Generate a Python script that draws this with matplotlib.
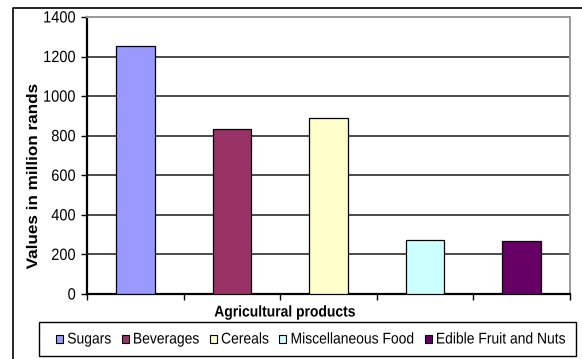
import matplotlib
matplotlib.use("Agg")
import matplotlib.pyplot as plt
from matplotlib.lines import Line2D
from matplotlib.patches import Patch, Rectangle
from matplotlib.patheffects import AbstractPathEffect
from matplotlib.transforms import Affine2D

plt.rcParams['font.family'] = ['Liberation Sans', 'DejaVu Sans']

categories = ["Sugars", "Beverages", "Cereals", "Miscellaneous Food", "Edible Fruit and Nuts"]
values = [1255, 832, 888, 273, 266]
colors = ["#9999FF", "#993366", "#FFFFCC", "#CCFFFF", "#660066"]
y_ticks = [0, 200, 400, 600, 800, 1000, 1200, 1400]


class Stretch(AbstractPathEffect):
    """Scale glyph outlines in the text's own frame (taller, narrow-looking type)."""

    def __init__(self, sx=1.0, sy=1.0):
        super().__init__()
        self.sx, self.sy = sx, sy

    def draw_path(self, renderer, gc, tpath, affine, rgbFace=None):
        renderer.draw_path(gc, tpath, Affine2D().scale(self.sx, self.sy) + affine, rgbFace)


TALL = [Stretch(1.0, 1.12)]

W, H = 582, 359
fig = plt.figure(figsize=(W / 100, H / 100), dpi=100)


def fx(px):
    return px / W


def fy(py):
    return 1 - py / H


left, right, top, bottom = 87, 570, 17, 294
ax = fig.add_axes([fx(left), fy(bottom), fx(right - left), (bottom - top) / H])

positions = list(range(len(categories)))
for pos, val, col in zip(positions, values, colors):
    ax.bar(pos, val, width=0.4, color=col, edgecolor="black", linewidth=0.9, zorder=3)

ax.set_xlim(-0.5, len(categories) - 0.5)
ax.set_ylim(0, 1400)
ax.set_yticks(y_ticks)
ax.set_yticklabels([str(v) for v in y_ticks], fontsize=10.5)
ax.set_xticks([p - 0.5 for p in range(len(categories) + 1)])
ax.set_xticklabels([])
ax.tick_params(axis="x", direction="out", length=4, width=1)
ax.tick_params(axis="y", direction="out", length=4, width=1, pad=4)
for lbl in ax.get_yticklabels():
    lbl.set_path_effects(TALL)

for v in y_ticks[1:-1]:
    ax.axhline(v, color="#1a1a1a", linewidth=1.1, zorder=1)

for side in ("left", "bottom"):
    ax.spines[side].set_color("black")
    ax.spines[side].set_linewidth(1.6)
for side in ("top", "right"):
    ax.spines[side].set_color("#999999")
    ax.spines[side].set_linewidth(1.4)

fig.text(fx(285), fy(312.5), "Agricultural products", ha="center", va="center",
         fontsize=10, fontweight="bold", path_effects=TALL)
fig.text(fx(33), fy(186), "Values in million rands", ha="center", va="center",
         rotation=90, fontsize=11, fontweight="bold",
         path_effects=[Stretch(1.12, 1.0)])

# legend entries, with the box drawn separately
handles = [Patch(facecolor=c, edgecolor="black", linewidth=0.8) for c in colors]
leg = fig.legend(handles, categories, loc="center", ncol=5,
                 bbox_to_anchor=(fx(311), fy(339.5)), fontsize=10,
                 handlelength=0.5, handleheight=0.5, handletextpad=0.3,
                 columnspacing=0.75, borderpad=0.0, frameon=False)
for t in leg.get_texts():
    t.set_path_effects(TALL)

fig.add_artist(Rectangle((fx(39), fy(356)), fx(576 - 39), (356 - 322) / H,
                         transform=fig.transFigure, facecolor="none",
                         edgecolor="black", linewidth=1.0))

fig.add_artist(Line2D([fx(13), fx(13), fx(582)], [0, fy(8), fy(8)],
                      color="black", linewidth=1.2))

fig.savefig("out.png", dpi=100)
